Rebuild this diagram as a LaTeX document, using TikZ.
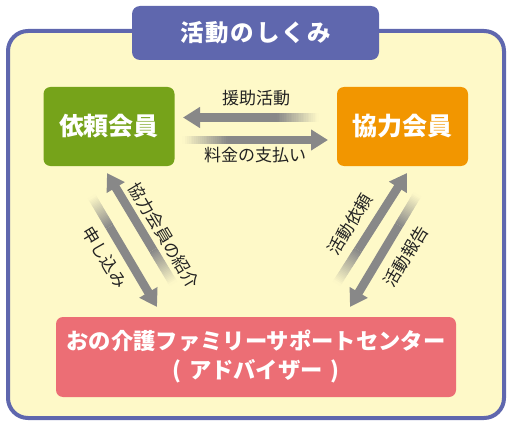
\documentclass[tikz,border=0pt]{standalone}
\usepackage{fontspec}
\newfontfamily\jp{Noto Sans CJK JP}
\usetikzlibrary{arrows.meta,calc}
\definecolor{bgyellow}{HTML}{FEF9C8}
\definecolor{frameblue}{HTML}{5F67AE}
\definecolor{boxgreen}{HTML}{76A31A}
\definecolor{boxorange}{HTML}{F29600}
\definecolor{boxpink}{HTML}{EC6E75}
\definecolor{arrowgray}{HTML}{888888}
\definecolor{labeltext}{HTML}{222222}
\newcommand{\fadeshaft}[2]{%
  \foreach \i in {0,...,23}{%
    \pgfmathsetmacro{\ta}{\i/24}%
    \pgfmathsetmacro{\tb}{(\i+1.5)/24}%
    \pgfmathsetmacro{\pc}{100-100*(\i+0.5)/24}%
    \draw[shaft, draw=arrowgray!\pc!bgyellow] ($(#1)!\ta!(#2)$) -- ($(#1)!\tb!(#2)$);
  }}
\begin{document}
\begin{tikzpicture}[x=1pt,y=-1pt,
  shaft/.style={line width=8.6pt},
  arrowmain/.style={shaft, draw=arrowgray, -{Triangle[width=20pt,length=17pt]}},
  member/.style={rounded corners=7pt, minimum width=131pt, minimum height=79pt,
    text=white, font=\jp\bfseries\fontsize{25}{28}\selectfont},
  lbl/.style={text=labeltext, font=\jp\fontsize{17}{20}\selectfont, inner sep=0pt}]
\useasboundingbox (0,0) rectangle (512,428);
% frame
\draw[line width=4pt, draw=frameblue, fill=bgyellow, rounded corners=20pt] (8,31) rectangle (504,418);
\node[fill=frameblue, rounded corners=8pt, minimum width=247pt, minimum height=54pt,
  text=white, font=\jp\bfseries\fontsize{23.5}{26}\selectfont] (title) at (255.5,33)
  {活\kern2pt 動\kern2pt の\kern2pt し\kern2pt く\kern2pt み};
% boxes
\node[member, fill=boxgreen] (irai) at (109,126.5) {依頼会員};
\node[member, fill=boxorange] (kyoryoku) at (402.5,126.5) {協力会員};
\node[fill=boxpink, rounded corners=7pt, minimum width=400pt, minimum height=80pt,
  text=white, align=center, font=\jp\bfseries\fontsize{22.3}{29}\selectfont] (center) at (256,357)
  {おの介護ファミリーサポートセンター\\(\kern8pt アドバイザー\kern8pt )};
% horizontal arrows
\coordinate (h1tip) at (183,117.5);
\coordinate (h1mid) at (277,117.5);
\coordinate (h1end) at (318,117.5);
\fadeshaft{h1mid}{h1end}
\draw[arrowmain] (h1mid) -- (h1tip);
\coordinate (h2tip) at (328,140);
\coordinate (h2mid) at (228,140);
\coordinate (h2end) at (183,140);
\fadeshaft{h2mid}{h2end}
\draw[arrowmain] (h2mid) -- (h2tip);
\node[lbl] (enjo) at (256,98.5) {援助活動};
\node[lbl] (ryokin) at (255,155) {料金の支払い};
% left diagonal arrows
\coordinate (a1tip) at (107,173);
\coordinate (a1end) at (173,283);
\coordinate (a1mid) at ($(a1tip)!0.7!(a1end)$);
\fadeshaft{a1mid}{a1end}
\draw[arrowmain] (a1mid) -- (a1tip);
\coordinate (a2tip) at (157,307);
\coordinate (a2end) at (92,197);
\coordinate (a2mid) at ($(a2end)!0.27!(a2tip)$);
\fadeshaft{a2mid}{a2end}
\draw[arrowmain] (a2mid) -- (a2tip);
\node[lbl, rotate=-59] (shokai) at (164,235.5) {協力会員の紹介};
\node[lbl, rotate=-59] (moushikomi) at (105,257.5) {申し込み};
% right diagonal arrows
\coordinate (a3tip) at (407,173);
\coordinate (a3end) at (337,283);
\coordinate (a3mid) at ($(a3tip)!0.7!(a3end)$);
\fadeshaft{a3mid}{a3end}
\draw[arrowmain] (a3mid) -- (a3tip);
\coordinate (a4tip) at (350,307);
\coordinate (a4end) at (417,195);
\coordinate (a4mid) at ($(a4end)!0.27!(a4tip)$);
\fadeshaft{a4mid}{a4end}
\draw[arrowmain] (a4mid) -- (a4tip);
\node[lbl, rotate=59] (katsudoirai) at (350,224.5) {活動依頼};
\node[lbl, rotate=59] (houkoku) at (406,256.5) {活動報告};
\end{tikzpicture}
\end{document}
